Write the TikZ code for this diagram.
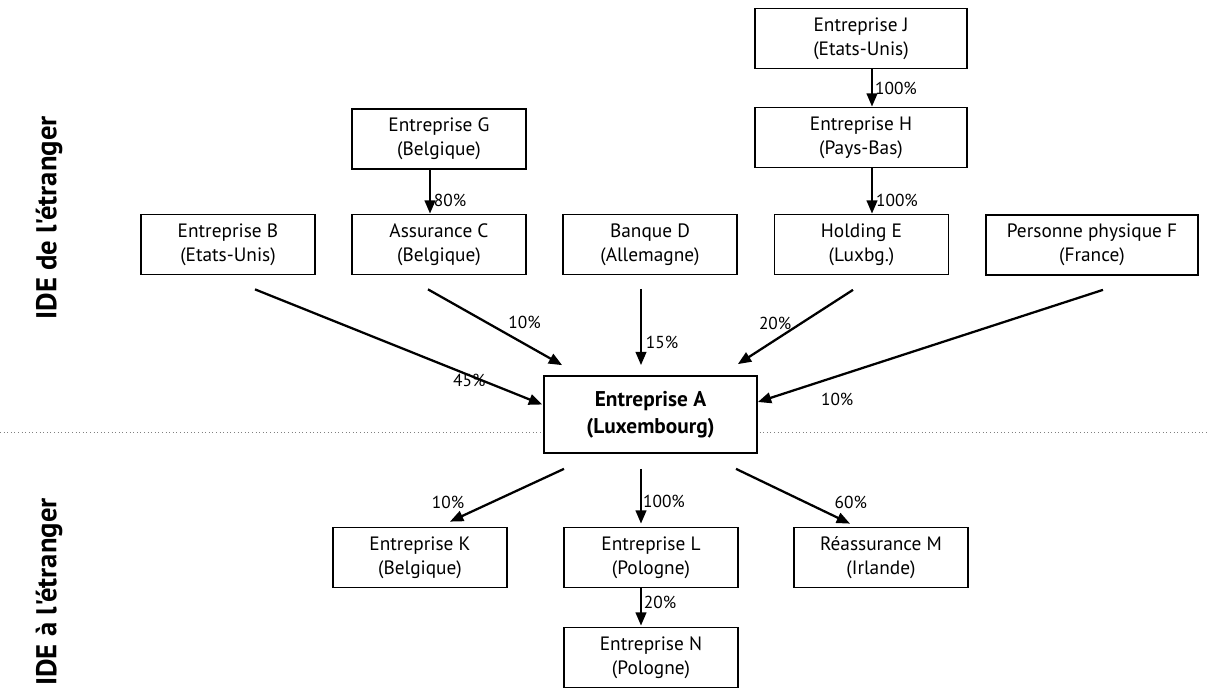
\documentclass[tikz,border=0pt]{standalone}
\usepackage{fontspec}
\setmainfont{PT Sans}
\font\sidefont="PT Sans/B" at 21.5pt
\usetikzlibrary{calc,arrows.meta}

\tikzset{
  firm/.style={draw, line width=1.3pt, minimum width=130.5pt, minimum height=45pt,
    inner sep=0pt, align=center, fill=white, font=\fontsize{14.5}{18}\selectfont},
  widefirm/.style={firm, minimum width=159pt},
  own/.style={line width=1.7pt, -{Triangle[length=10pt,width=8pt]}},
  pct/.style={inner sep=0pt, font=\fontsize{13}{15}\selectfont},
  side/.style={rotate=90, inner sep=0pt, font=\sidefont},
}

\begin{document}
\begin{tikzpicture}[x=0.75pt, y=-0.75pt]
		%%%%% START %%%%%
		\useasboundingbox (0,0) rectangle (1208,696);
		
		\draw[gray, line width=0.7pt, dotted] (0,432) -- (1208,432);
		
		\node[side] (inward) at (49,218) {IDE de l'étranger};
		\node[side] (outward) at (49,592) {IDE à l'étranger};
		
		\node[widefirm] (J) at (861,38.5) {Entreprise J\\(Etats-Unis)};
		\node[widefirm] (H) at (861,137.5) {Entreprise H\\(Pays-Bas)};
		\node[firm] (G) at (439,139) {Entreprise G\\(Belgique)};
		
		\node[firm] (B) at (228,244.5) {Entreprise B\\(Etats-Unis)};
		\node[firm] (C) at (439,244.5) {Assurance C\\(Belgique)};
		\node[firm] (D) at (650,244.5) {Banque D\\(Allemagne)};
		\node[firm] (E) at (861.5,244.5) {Holding E\\(Luxbg.)};
		\node[widefirm] (F) at (1092,245) {Personne physique F\\(France)};
		
		\node[firm, minimum width=159.75pt, minimum height=57.75pt,
		  font=\fontsize{16}{20}\selectfont\bfseries] (A) at (650.5,414.5) {Entreprise A\\(Luxembourg)};
		
		\node[firm] (K) at (420,557.5) {Entreprise K\\(Belgique)};
		\node[firm] (L) at (651,557.5) {Entreprise L\\(Pologne)};
		\node[firm] (M) at (881,557.5) {Réassurance M\\(Irlande)};
		\node[firm] (N) at (651,657.5) {Entreprise N\\(Pologne)};
		
		% chains above
		\draw[own] ($(J.south)+(11,0)$) -- ($(H.north)+(11,0)$) node[pct, pos=0.5, xshift=18pt] {100\%};
		\draw[own] ($(H.south)+(11,0)$) -- ($(E.north)+(10.5,0)$) node[pct, pos=0.7, xshift=18.75pt] {100\%};
		\draw[own] ($(G.south)+(-9,0)$) -- ($(C.north)+(-9,0)$) node[pct, pos=0.69, xshift=15pt] {80\%};
		
		% into A
		\draw[own] ($(B.south)+(27,14)$) -- ($(A.west)+(-1,-10)$) node[pct, pos=0.75, xshift=-0.75pt, yshift=-3.75pt] {45\%};
		\draw[own] ($(C.south)+(-11,14)$) -- ($(A.north west)+(19,-10)$) node[pct, pos=0.72, yshift=15.75pt] {10\%};
		\draw[own] ($(D.south)+(-9,13.5)$) -- ($(A.north)+(-9.5,-10)$) node[pct, pos=0.7, xshift=15.75pt] {15\%};
		\draw[own] ($(E.south)+(-8.5,14.5)$) -- ($(A.north east)+(-20,-11)$) node[pct, pos=0.45, xshift=-19.5pt] {20\%};
		\draw[own] ($(F.south)+(11,14)$) -- ($(A.east)+(0,-12.5)$) node[pct, pos=0.77, yshift=-17.25pt] {10\%};
		
		% out of A
		\draw[own] ($(A.south)+(-86.5,15)$) -- ($(K.north)+(30,-5)$) node[pct, pos=0.64, xshift=-32.25pt] {10\%};
		\draw[own] ($(A.south)+(-9.5,15)$) -- ($(L.north)+(-10,-3)$) node[pct, pos=0.6, xshift=17.25pt] {100\%};
		\draw[own] ($(A.south)+(85.5,15)$) -- ($(M.north)+(-31,-3)$) node[pct, pos=0.61, xshift=34pt] {60\%};
		\draw[own] ($(L.south)+(-10,0)$) -- ($(N.north)+(-10,-1)$) node[pct, pos=0.39, xshift=14.25pt] {20\%};
		%%%%% END %%%%%
	\end{tikzpicture}
\end{document}
